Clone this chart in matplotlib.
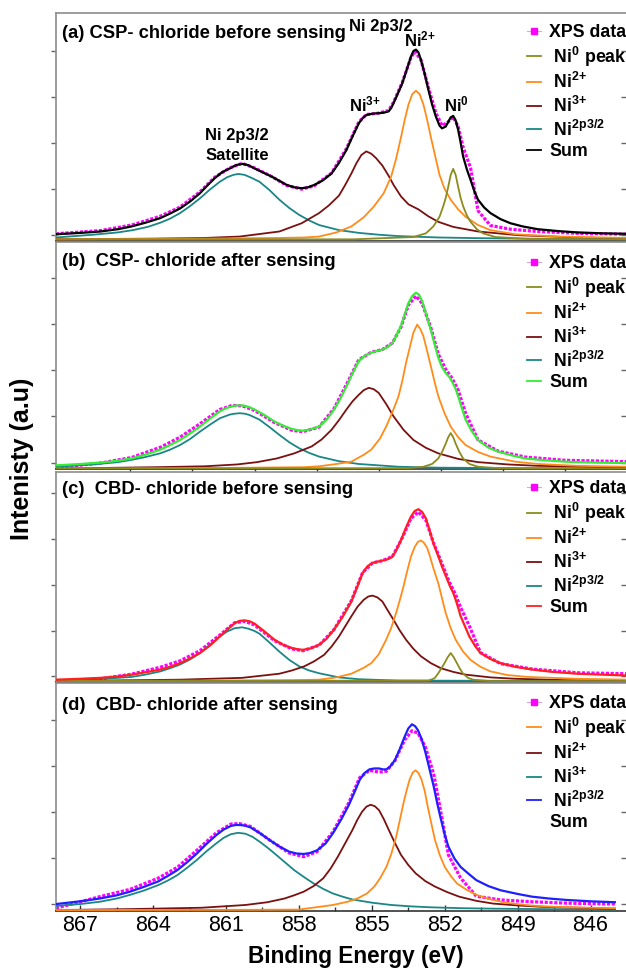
import numpy as np
import matplotlib
matplotlib.use('Agg')
import matplotlib.pyplot as plt
from matplotlib.lines import Line2D

# ---- panel (a) CSP before sensing ----
a_e_sum = [868.0, 867.0, 866.2, 865.5, 864.95, 864.4, 863.8, 863.4, 863.0, 862.6, 862.2, 861.9, 861.6, 861.3,
           861.0, 860.75, 860.5, 860.25, 860.0, 859.65, 859.3, 859.0, 858.7, 858.4, 858.1, 857.85, 857.6,
           857.25, 856.9, 856.6, 856.3, 856.05, 855.8, 855.65, 855.5, 855.25, 855.0, 854.8, 854.6, 854.5,
           854.4, 854.25, 854.05, 853.85, 853.7, 853.6, 853.5, 853.4, 853.3, 853.15, 853.0, 852.85, 852.7,
           852.55, 852.45, 852.3, 852.2, 852.1, 852.0, 851.9, 851.8, 851.7, 851.6, 851.45, 851.3, 851.15,
           851.0, 850.75, 850.5, 850.1, 849.7, 849.2, 848.6, 847.8, 847.0, 846.0, 845.0]
a_sum = [0.11, 0.14, 0.17, 0.22, 0.28, 0.36, 0.46, 0.56, 0.67, 0.82, 1.00, 1.17, 1.33, 1.46,
         1.54, 1.61, 1.64, 1.61, 1.54, 1.45, 1.36, 1.27, 1.18, 1.13, 1.11, 1.13, 1.18,
         1.28, 1.43, 1.66, 1.94, 2.24, 2.52, 2.63, 2.70, 2.73, 2.74, 2.75, 2.78, 2.85,
         2.96, 3.14, 3.39, 3.72, 3.97, 4.09, 4.12, 4.06, 3.90, 3.60, 3.25, 2.93, 2.67,
         2.47, 2.41, 2.45, 2.55, 2.65, 2.68, 2.58, 2.38, 2.10, 1.80, 1.52, 1.29, 1.05,
         0.86, 0.69, 0.57, 0.44, 0.35, 0.28, 0.22, 0.18, 0.15, 0.13, 0.12]
a_e_data = [868.0, 866.2, 864.95, 863.8, 863.0, 862.2, 861.6, 861.0, 860.5, 860.0, 859.3, 858.7, 858.1,
            857.6, 856.9, 856.3, 855.8, 855.5, 855.0, 854.6, 854.4, 854.05, 853.7, 853.55, 853.3, 853.0,
            852.7, 852.45, 852.2, 852.0, 851.8, 851.6, 851.3, 851.0, 850.5, 849.7, 848.6, 847.0, 845.0]
a_data = [0.12, 0.19, 0.31, 0.50, 0.70, 1.03, 1.35, 1.55, 1.65, 1.55, 1.36, 1.17, 1.09,
          1.16, 1.44, 1.97, 2.55, 2.71, 2.74, 2.80, 2.98, 3.41, 3.95, 4.08, 3.90, 3.30,
          2.75, 2.47, 2.55, 2.66, 2.45, 2.00, 1.55, 0.62, 0.30, 0.22, 0.17, 0.13, 0.11]
a_e_ni0 = [868.0, 856.0, 853.6, 853.1, 852.8, 852.55, 852.4, 852.3, 852.2, 852.1, 852.0, 851.9, 851.8,
           851.7, 851.6, 851.45, 851.3, 851.05, 850.8, 850.3, 849.0, 845.0]
a_ni0 = [0.0, 0.0, 0.05, 0.13, 0.28, 0.49, 0.72, 0.90, 1.14, 1.40, 1.53, 1.40, 1.14,
         0.90, 0.72, 0.52, 0.38, 0.22, 0.13, 0.05, 0.01, 0.0]
a_e_ni2 = [868.0, 862.0, 859.0, 858.0, 857.4, 856.7, 856.1, 855.6, 855.2, 854.8, 854.5, 854.3, 854.1,
           853.95, 853.8, 853.65, 853.5, 853.35, 853.2, 853.05, 852.9, 852.7, 852.55, 852.35, 852.1,
           851.8, 851.5, 851.0, 850.5, 849.5, 847.8, 845.0]
a_ni2 = [0.0, 0.015, 0.03, 0.04, 0.06, 0.15, 0.28, 0.48, 0.71, 1.00, 1.36, 1.75, 2.22,
         2.60, 2.93, 3.15, 3.23, 3.15, 2.93, 2.60, 2.22, 1.75, 1.40, 1.10, 0.86,
         0.65, 0.49, 0.31, 0.20, 0.11, 0.06, 0.03]
a_e_ni3 = [868.0, 864.0, 862.0, 860.6, 859.0, 858.1, 857.4, 857.0, 856.6, 856.35, 856.1, 855.9, 855.7,
           855.5, 855.3, 855.1, 854.85, 854.6, 854.4, 854.1, 853.8, 853.4, 853.0, 852.6, 852.0, 851.0,
           849.4, 847.0, 845.0]
a_ni3 = [0.0, 0.015, 0.03, 0.06, 0.17, 0.35, 0.57, 0.74, 0.95, 1.18, 1.43, 1.65, 1.83,
         1.91, 1.86, 1.76, 1.60, 1.38, 1.18, 0.93, 0.76, 0.65, 0.50, 0.38, 0.27, 0.17,
         0.09, 0.04, 0.02]
a_e_sat = [868.0, 866.5, 865.5, 864.9, 864.3, 863.8, 863.4, 863.0, 862.6, 862.2, 861.8, 861.4, 861.1,
           860.85, 860.65, 860.4, 860.1, 859.8, 859.4, 859.0, 858.6, 858.2, 857.8, 857.4, 856.6, 855.8,
           855.0, 854.2, 852.6, 851.0, 849.4, 845.0]
a_sat = [0.04, 0.10, 0.15, 0.20, 0.27, 0.36, 0.45, 0.57, 0.72, 0.89, 1.08, 1.25, 1.35,
         1.40, 1.42, 1.40, 1.33, 1.25, 1.07, 0.86, 0.68, 0.53, 0.41, 0.31, 0.20, 0.14,
         0.10, 0.07, 0.04, 0.025, 0.015, 0.0]

# ---- panel (b) CSP after sensing ----
b_e_sum = [868.0, 867.0, 866.2, 865.5, 864.95, 864.4, 863.8, 863.4, 863.0, 862.6, 862.2, 861.8, 861.4,
           861.15, 860.9, 860.7, 860.5, 860.25, 860.0, 859.6, 859.2, 858.85, 858.5, 858.25, 858.05, 857.75,
           857.4, 857.1, 856.8, 856.55, 856.3, 856.05, 855.8, 855.55, 855.3, 855.05, 854.85, 854.65, 854.45,
           854.3, 854.1, 853.95, 853.8, 853.65, 853.5, 853.38, 853.25, 853.1, 852.9, 852.75, 852.6, 852.45,
           852.3, 852.15, 852.05, 851.92, 851.8, 851.65, 851.5, 851.25, 851.0, 850.6, 850.2, 849.6, 849.1,
           848.3, 847.5, 846.3, 845.0]
b_sum = [0.07, 0.10, 0.13, 0.17, 0.22, 0.30, 0.41, 0.51, 0.62, 0.76, 0.91, 1.08, 1.24,
         1.31, 1.35, 1.37, 1.37, 1.34, 1.28, 1.16, 1.02, 0.93, 0.86, 0.83, 0.82, 0.85,
         0.91, 1.06, 1.28, 1.51, 1.78, 2.07, 2.33, 2.45, 2.51, 2.55, 2.58, 2.63, 2.72,
         2.87, 3.09, 3.34, 3.59, 3.74, 3.81, 3.77, 3.63, 3.36, 3.01, 2.70, 2.40, 2.20,
         2.07, 1.98, 1.89, 1.75, 1.57, 1.31, 1.06, 0.81, 0.62, 0.46, 0.37, 0.28, 0.22,
         0.18, 0.15, 0.13, 0.12]
b_e_data = [868.0, 866.2, 864.95, 863.8, 863.0, 862.2, 861.4, 860.9, 860.5, 860.0, 859.2, 858.5, 858.05,
            857.4, 856.8, 856.3, 855.8, 855.3, 854.85, 854.45, 854.1, 853.8, 853.5, 853.25, 852.9, 852.6,
            852.3, 852.05, 851.8, 851.5, 851.0, 850.2, 849.1, 847.5, 845.0]
b_data = [0.02, 0.12, 0.24, 0.46, 0.68, 0.97, 1.28, 1.37, 1.36, 1.26, 1.00, 0.83, 0.80,
          0.90, 1.30, 1.82, 2.36, 2.52, 2.58, 2.72, 3.07, 3.55, 3.74, 3.58, 3.05, 2.48,
          2.15, 1.96, 1.70, 1.20, 0.62, 0.38, 0.25, 0.18, 0.15]
b_e_ni0 = [868.0, 853.8, 853.2, 852.85, 852.6, 852.45, 852.3, 852.2, 852.1, 852.0, 851.9, 851.75, 851.6,
           851.35, 851.0, 850.2, 845.0]
b_ni0 = [0.0, 0.01, 0.04, 0.10, 0.22, 0.36, 0.54, 0.68, 0.77, 0.68, 0.54, 0.36, 0.22,
         0.10, 0.04, 0.01, 0.0]
b_e_ni2 = [868.0, 862.0, 858.0, 857.4, 856.7, 856.1, 855.6, 855.3, 854.95, 854.7, 854.45, 854.2, 854.05,
           853.9, 853.75, 853.6, 853.45, 853.33, 853.2, 853.05, 852.9, 852.75, 852.6, 852.35, 852.1,
           851.8, 851.5, 851.0, 850.5, 849.5, 848.6, 847.0, 845.0]
b_ni2 = [0.0, 0.01, 0.03, 0.05, 0.10, 0.15, 0.30, 0.41, 0.65, 0.91, 1.22, 1.57, 1.90,
         2.29, 2.62, 2.95, 3.12, 3.03, 2.87, 2.55, 2.22, 1.88, 1.57, 1.20, 0.91,
         0.68, 0.51, 0.36, 0.26, 0.15, 0.10, 0.06, 0.04]
b_e_ni3 = [868.0, 864.0, 862.0, 860.7, 859.9, 859.1, 858.4, 857.7, 857.3, 856.9, 856.6, 856.3, 856.05,
           855.8, 855.6, 855.4, 855.2, 855.0, 854.7, 854.4, 854.0, 853.6, 853.1, 852.6, 851.8, 851.0,
           849.8, 848.6, 845.0]
b_ni3 = [0.0, 0.03, 0.05, 0.09, 0.14, 0.22, 0.33, 0.48, 0.63, 0.84, 1.05, 1.28, 1.46,
         1.60, 1.70, 1.75, 1.72, 1.64, 1.40, 1.13, 0.84, 0.62, 0.45, 0.33, 0.21, 0.14,
         0.09, 0.06, 0.02]
b_e_sat = [868.0, 866.5, 865.5, 864.95, 864.4, 863.8, 863.4, 863.0, 862.6, 862.2, 861.8, 861.4, 861.0,
           860.8, 860.6, 860.4, 860.2, 859.8, 859.4, 859.0, 858.6, 858.2, 857.8, 857.4, 856.6, 855.8,
           855.0, 854.2, 852.6, 848.0, 845.0]
b_sat = [0.04, 0.09, 0.14, 0.19, 0.25, 0.33, 0.41, 0.51, 0.64, 0.80, 0.95, 1.09, 1.17,
         1.19, 1.20, 1.19, 1.16, 1.06, 0.90, 0.73, 0.57, 0.44, 0.34, 0.26, 0.16, 0.10,
         0.07, 0.04, 0.02, 0.005, 0.0]

# ---- panel (c) CBD before sensing ----
c_e_sum = [868.0, 867.0, 866.2, 865.5, 864.95, 864.4, 863.8, 863.4, 863.0, 862.6, 862.2, 861.8, 861.4,
           861.1, 860.8, 860.6, 860.4, 860.2, 860.0, 859.6, 859.2, 858.85, 858.5, 858.25, 858.05, 857.75,
           857.4, 857.1, 856.8, 856.45, 856.1, 855.85, 855.65, 855.45, 855.25, 855.05, 854.85, 854.65,
           854.45, 854.3, 854.1, 853.9, 853.7, 853.55, 853.4, 853.25, 853.1, 852.95, 852.8, 852.6, 852.45,
           852.3, 852.15, 852.0, 851.9, 851.8, 851.7, 851.5, 851.35, 851.1, 850.9, 850.5, 850.1, 849.5,
           848.8, 848.0, 847.0, 846.0, 845.0]
c_sum = [0.03, 0.05, 0.07, 0.10, 0.14, 0.19, 0.25, 0.31, 0.39, 0.49, 0.61, 0.77, 0.97,
         1.12, 1.26, 1.31, 1.32, 1.30, 1.25, 1.08, 0.90, 0.79, 0.72, 0.69, 0.68, 0.71,
         0.79, 0.92, 1.12, 1.40, 1.73, 2.07, 2.35, 2.50, 2.57, 2.60, 2.62, 2.65,
         2.70, 2.84, 3.07, 3.34, 3.58, 3.70, 3.74, 3.68, 3.54, 3.28, 3.00, 2.72, 2.49,
         2.29, 2.09, 1.92, 1.77, 1.60, 1.41, 1.16, 0.97, 0.75, 0.61, 0.48, 0.39, 0.31,
         0.25, 0.20, 0.16, 0.14, 0.12]
c_e_data = [868.0, 866.2, 864.95, 863.8, 863.0, 862.2, 861.4, 860.8, 860.4, 860.0, 859.2, 858.5, 858.05,
            857.4, 856.8, 856.1, 855.65, 855.25, 854.85, 854.45, 854.1, 853.7, 853.4, 853.1, 852.8, 852.45,
            852.15, 851.9, 851.7, 851.35, 850.9, 850.1, 848.8, 847.0, 845.0]
c_data = [0.0, 0.05, 0.15, 0.30, 0.44, 0.66, 1.00, 1.27, 1.30, 1.22, 0.88, 0.70, 0.66,
          0.78, 1.12, 1.75, 2.36, 2.57, 2.62, 2.71, 3.06, 3.54, 3.68, 3.50, 3.02, 2.55,
          2.15, 1.88, 1.60, 1.20, 0.62, 0.38, 0.26, 0.18, 0.16]
c_e_ni0 = [868.0, 853.0, 852.75, 852.6, 852.45, 852.35, 852.22, 852.1, 851.98, 851.85, 851.72, 851.6,
           851.4, 851.2, 850.5, 845.0]
c_ni0 = [0.0, 0.01, 0.06, 0.17, 0.30, 0.39, 0.52, 0.61, 0.52, 0.39, 0.26, 0.16,
         0.07, 0.03, 0.0, 0.0]
c_e_ni2 = [868.0, 862.0, 858.5, 857.4, 856.7, 856.1, 855.6, 855.3, 855.0, 854.7, 854.5, 854.3, 854.15,
           854.0, 853.85, 853.7, 853.55, 853.42, 853.3, 853.18, 853.05, 852.95, 852.8, 852.6, 852.45,
           852.3, 852.1, 851.9, 851.6, 851.3, 850.9, 850.5, 849.8, 849.0, 847.0, 845.0]
c_ni2 = [0.0, 0.01, 0.02, 0.03, 0.08, 0.16, 0.29, 0.39, 0.58, 0.90, 1.15, 1.48, 1.76,
         2.06, 2.40, 2.71, 2.92, 3.03, 3.06, 3.01, 2.90, 2.74, 2.46, 2.13, 1.80,
         1.48, 1.15, 0.90, 0.64, 0.46, 0.31, 0.21, 0.13, 0.09, 0.05, 0.03]
c_e_ni3 = [868.0, 863.0, 860.5, 859.0, 858.5, 858.0, 857.6, 857.2, 856.9, 856.6, 856.35, 856.1, 855.85,
           855.6, 855.42, 855.25, 855.05, 854.85, 854.65, 854.4, 854.15, 853.9, 853.6, 853.3, 852.9,
           852.5, 852.0, 851.5, 850.5, 849.5, 847.5, 845.0]
c_ni3 = [0.0, 0.03, 0.07, 0.16, 0.23, 0.32, 0.43, 0.57, 0.75, 0.97, 1.19, 1.41, 1.62,
         1.77, 1.84, 1.86, 1.82, 1.73, 1.55, 1.33, 1.10, 0.90, 0.70, 0.54, 0.39,
         0.28, 0.20, 0.14, 0.08, 0.05, 0.02, 0.01]
c_e_sat = [868.0, 866.5, 865.5, 864.95, 864.4, 863.8, 863.4, 863.0, 862.6, 862.2, 861.8, 861.4, 861.1,
           860.8, 860.5, 860.25, 860.0, 859.8, 859.4, 859.0, 858.6, 858.2, 857.8, 857.4, 856.6, 855.8,
           854.2, 845.0]
c_sat = [0.01, 0.04, 0.07, 0.09, 0.14, 0.21, 0.28, 0.36, 0.47, 0.61, 0.79, 0.97, 1.08,
         1.15, 1.17, 1.14, 1.09, 1.03, 0.84, 0.64, 0.46, 0.32, 0.23, 0.17, 0.08, 0.04,
         0.01, 0.0]

# ---- panel (d) CBD after sensing ----
d_e_sum = [868.0, 867.0, 866.2, 865.5, 864.95, 864.4, 863.8, 863.4, 863.0, 862.6, 862.2, 861.8, 861.4,
           861.1, 860.8, 860.6, 860.45, 860.25, 860.0, 859.6, 859.2, 858.8, 858.4, 858.1, 857.8, 857.55,
           857.25, 856.9, 856.6, 856.25, 855.95, 855.7, 855.5, 855.3, 855.1, 854.9, 854.7, 854.55, 854.4,
           854.25, 854.05, 853.85, 853.65, 853.5, 853.35, 853.22, 853.1, 852.95, 852.8, 852.65, 852.45,
           852.3, 852.15, 852.0, 851.85, 851.6, 851.35, 851.0, 850.7, 850.2, 849.7, 849.0, 848.4, 847.7,
           847.0, 846.0, 845.0]
d_sum = [0.13, 0.19, 0.25, 0.32, 0.40, 0.50, 0.62, 0.74, 0.87, 1.04, 1.23, 1.44, 1.63,
         1.75, 1.83, 1.85, 1.85, 1.84, 1.80, 1.67, 1.52, 1.38, 1.27, 1.23, 1.22, 1.24,
         1.30, 1.45, 1.67, 1.98, 2.28, 2.58, 2.83, 2.98, 3.06, 3.08, 3.08, 3.06, 3.06,
         3.12, 3.26, 3.50, 3.77, 3.95, 4.04, 4.00, 3.91, 3.72, 3.44, 3.12, 2.68,
         2.30, 1.96, 1.64, 1.38, 1.12, 0.94, 0.78, 0.65, 0.52, 0.43, 0.35, 0.29, 0.25,
         0.22, 0.19, 0.17]
d_e_data = [868.0, 866.2, 864.95, 863.8, 863.0, 862.2, 861.4, 860.8, 860.45, 860.0, 859.2, 858.4, 857.8,
            857.25, 856.6, 855.95, 855.5, 855.1, 854.7, 854.4, 854.05, 853.65, 853.35, 853.1, 852.8, 852.45,
            852.15, 851.85, 851.35, 850.7, 849.7, 848.4, 847.0, 845.0]
d_data = [0.04, 0.29, 0.45, 0.69, 0.93, 1.30, 1.68, 1.87, 1.88, 1.82, 1.52, 1.24, 1.16,
          1.27, 1.70, 2.33, 2.88, 3.04, 3.00, 3.02, 3.25, 3.70, 3.90, 3.85, 3.55, 2.95,
          2.10, 1.20, 0.70, 0.30, 0.22, 0.18, 0.15, 0.13]
d_e_ni2 = [868.0, 860.0, 858.0, 857.3, 856.6, 856.0, 855.6, 855.2, 854.9, 854.65, 854.4, 854.2, 854.0,
           853.85, 853.7, 853.57, 853.45, 853.32, 853.2, 853.08, 852.95, 852.82, 852.7, 852.55, 852.4,
           852.2, 852.0, 851.75, 851.5, 851.1, 850.7, 850.1, 849.5, 848.5, 847.5, 846.0, 845.0]
d_ni2 = [0.0, 0.005, 0.01, 0.06, 0.11, 0.18, 0.25, 0.36, 0.51, 0.70, 0.94, 1.22, 1.59,
         1.95, 2.32, 2.60, 2.83, 2.99, 3.04, 2.98, 2.83, 2.58, 2.25, 1.88, 1.52,
         1.19, 0.94, 0.74, 0.58, 0.44, 0.33, 0.23, 0.16, 0.10, 0.07, 0.05, 0.04]
d_e_ni3 = [868.0, 865.0, 862.0, 860.2, 859.3, 858.6, 858.2, 857.8, 857.4, 857.0, 856.7, 856.4, 856.1,
           855.8, 855.6, 855.4, 855.22, 855.05, 854.88, 854.7, 854.5, 854.3, 854.05, 853.8, 853.5,
           853.2, 852.8, 852.4, 851.9, 851.4, 850.7, 850.0, 849.0, 848.0, 845.0]
d_ni3 = [0.0, 0.02, 0.05, 0.11, 0.17, 0.25, 0.32, 0.40, 0.52, 0.69, 0.90, 1.16, 1.45,
         1.74, 1.96, 2.14, 2.25, 2.29, 2.26, 2.17, 1.97, 1.74, 1.46, 1.20, 0.98,
         0.80, 0.63, 0.51, 0.39, 0.29, 0.20, 0.14, 0.10, 0.07, 0.03]
d_e_sat = [868.0, 867.0, 866.2, 865.5, 864.95, 864.4, 863.8, 863.4, 863.0, 862.6, 862.2, 861.8, 861.4,
           861.1, 860.8, 860.5, 860.2, 859.9, 859.6, 859.3, 859.0, 858.6, 858.2, 857.8, 857.4, 857.0,
           856.6, 856.2, 855.8, 855.0, 854.2, 853.4, 852.6, 851.3, 850.0, 848.0, 845.0]
d_sat = [0.09, 0.13, 0.18, 0.25, 0.33, 0.42, 0.54, 0.64, 0.76, 0.92, 1.09, 1.28, 1.45,
         1.57, 1.65, 1.68, 1.66, 1.59, 1.48, 1.36, 1.23, 1.05, 0.87, 0.72, 0.58, 0.46,
         0.36, 0.29, 0.23, 0.16, 0.11, 0.08, 0.06, 0.04, 0.03, 0.02, 0.01]

legend_labels = ['XPS data', ' Ni$^0$ peak', ' Ni$^{2{+}}$', ' Ni$^{3{+}}$', ' Ni$^{2p3/2}$', 'Sum']
titles = ['(a) CSP- chloride before sensing', '(b)  CSP- chloride after sensing',
          '(c)  CBD- chloride before sensing', '(d)  CBD- chloride after sensing']
top_ticks = [865, 860, 855, 850]
bottom_ticks = [867, 864, 861, 858, 855, 852, 849, 846]

DATA_C = '#ff00ff'
NI0_C = '#8b8b1e'
NI2_C = '#ff8c1a'
NI3_C = '#7a1010'
SAT_C = '#1a8686'
SPINE_C = '#8c8c8c'

plt.rcParams['font.family'] = ['Liberation Sans', 'DejaVu Sans']
plt.rcParams['mathtext.fontset'] = 'custom'
plt.rcParams['mathtext.rm'] = 'Liberation Sans:bold'
plt.rcParams['mathtext.it'] = 'Liberation Sans:bold'
plt.rcParams['mathtext.bf'] = 'Liberation Sans:bold'
plt.rcParams['mathtext.sf'] = 'Liberation Sans:bold'
plt.rcParams['mathtext.default'] = 'rm'


def draw_panel(ax, e_data, data, e_sum, total, sum_color, comps, ylim, tick0, bottom):
    ax.plot(e_data, data, color=DATA_C, lw=2.3, ls=(0, (1, 0.5)), dash_capstyle='butt', zorder=2)
    for e, y, c in comps:
        ax.plot(e, y, color=c, lw=1.3, zorder=3)
    ax.plot(e_sum, total, color=sum_color, lw=1.6, zorder=4)

    ax.set_xlim(868, 845)
    ax.set_ylim(*ylim)
    ax.set_yticks(tick0 + np.arange(5))
    ax.set_yticklabels([])
    ax.tick_params(axis='y', direction='out', length=3.5, width=1, color='#666666')
    sec = ax.secondary_yaxis('right')
    sec.set_yticks(tick0 + np.arange(5))
    sec.set_yticklabels([])
    sec.tick_params(direction='in', length=4, width=1, color='#666666')

    for side in ['left', 'top', 'right']:
        ax.spines[side].set_color(SPINE_C)
        ax.spines[side].set_linewidth(1.2)
    ax.spines['bottom'].set_color('#333333')
    ax.spines['bottom'].set_linewidth(1.2)

    if bottom:
        ax.set_xticks(bottom_ticks)
        ax.set_xticks([t - 1.5 for t in bottom_ticks], minor=True)
        ax.tick_params(axis='x', which='both', direction='in', width=1, color='#333333')
        ax.tick_params(axis='x', which='major', length=4, labelsize=15.5, pad=3)
        ax.tick_params(axis='x', which='minor', length=3)
    else:
        ax.set_xticks(top_ticks)
        ax.set_xticks([t - 2.5 for t in top_ticks], minor=True)
        ax.set_xticklabels([])
        ax.tick_params(axis='x', which='both', direction='out', width=1, color='#333333')
        ax.tick_params(axis='x', which='major', length=4)
        ax.tick_params(axis='x', which='minor', length=3)


def add_legend(ax, handles, anchor):
    ax.legend(handles, legend_labels, loc='upper left', bbox_to_anchor=anchor, frameon=False,
              prop={'weight': 'bold', 'size': 12.8}, handlelength=0.8, handletextpad=0.45,
              labelspacing=0.2, borderpad=0, borderaxespad=0)


def line(c):
    return Line2D([], [], color=c, lw=1.3)


data_handle = Line2D([], [], color='#d9a6d9', lw=0.8, marker='s', ms=4.5, mfc=DATA_C, mec=DATA_C)

fig = plt.figure(figsize=(6.26, 9.69), dpi=100)
ax_a = fig.add_axes([0.0893, 0.7516, 0.9123, 0.2347])
ax_b = fig.add_axes([0.0893, 0.5157, 0.9123, 0.2346])
ax_c = fig.add_axes([0.0893, 0.2962, 0.9123, 0.2172])
ax_d = fig.add_axes([0.0893, 0.0599, 0.9123, 0.2353])

draw_panel(ax_a, a_e_data, a_data, a_e_sum, a_sum, '#000000',
           [(a_e_sat, a_sat, SAT_C), (a_e_ni3, a_ni3, NI3_C), (a_e_ni2, a_ni2, NI2_C), (a_e_ni0, a_ni0, NI0_C)],
           (-0.03, 4.91), 0.10, False)
draw_panel(ax_b, b_e_data, b_data, b_e_sum, b_sum, '#33ee33',
           [(b_e_sat, b_sat, SAT_C), (b_e_ni3, b_ni3, NI3_C), (b_e_ni2, b_ni2, NI2_C), (b_e_ni0, b_ni0, NI0_C)],
           (-0.015, 4.91), 0.13, False)
draw_panel(ax_c, c_e_data, c_data, c_e_sum, c_sum, '#ff2020',
           [(c_e_sat, c_sat, SAT_C), (c_e_ni3, c_ni3, NI3_C), (c_e_ni2, c_ni2, NI2_C), (c_e_ni0, c_ni0, NI0_C)],
           (-0.02, 4.56), 0.10, False)
draw_panel(ax_d, d_e_data, d_data, d_e_sum, d_sum, '#1f1fff',
           [(d_e_sat, d_sat, SAT_C), (d_e_ni3, d_ni3, NI3_C), (d_e_ni2, d_ni2, NI2_C)],
           (-0.02, 4.94), 0.13, True)

add_legend(ax_a, [data_handle, line(NI0_C), line(NI2_C), line(NI3_C), line(SAT_C), line('#000000')], (0.825, 0.953))
add_legend(ax_b, [data_handle, line(NI0_C), line(NI2_C), line(NI3_C), line(SAT_C), line('#33ee33')], (0.825, 0.943))
add_legend(ax_c, [data_handle, line(NI0_C), line(NI2_C), line(NI3_C), line(SAT_C), line('#ff2020')], (0.825, 0.959))
add_legend(ax_d, [data_handle, line(NI2_C), line(NI3_C), line(SAT_C), line('#1f1fff'), Line2D([], [], color='none')],
           (0.825, 0.947))

for ax, title, ty in zip([ax_a, ax_b, ax_c, ax_d], titles, [4.37, 4.39, 4.07, 4.36]):
    ax.text(867.75, ty, title, fontsize=13.2, weight='bold', ha='left', va='baseline')

ann = dict(fontsize=12, weight='bold', ha='center', va='baseline')
ax_a.text(854.9, 4.53, 'Ni 2p3/2', **ann)
ax_a.text(853.33, 4.19, 'Ni$^{2{+}}$', **ann)
ax_a.text(855.57, 2.78, 'Ni$^{3{+}}$', **ann)
ax_a.text(851.86, 2.78, 'Ni$^{0}$', **ann)
ax_a.text(860.7, 2.16, 'Ni 2p3/2', **ann)
ax_a.text(860.7, 1.72, 'Satellite', **ann)

fig.text(0.5676, 0.0015, 'Binding Energy (eV)', fontsize=16.3, weight='bold', ha='center', va='bottom')
fig.text(0.035, 0.5263, 'Intenisty (a.u)', fontsize=18, weight='bold', rotation=90, ha='center', va='center')

fig.savefig('out.png', dpi=100)
